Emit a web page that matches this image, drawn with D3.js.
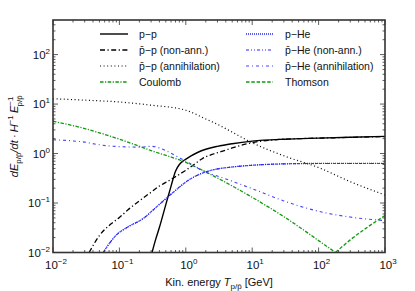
<!DOCTYPE html>
<html>
<head>
<meta charset="utf-8">
<script src="https://cdn.jsdelivr.net/npm/d3@7"></script>
<style>
  body { margin: 0; background: #fff; }
  svg { display: block; }
</style>
</head>
<body>
<div id="chart"></div>
<script>
// values, [T in GeV, dE/dt H^-1 E^-1]
const ppSolid = [[0.31,0.01],[0.35,0.018],[0.4,0.032],[0.5,0.093],[0.6,0.22],[0.7,0.44],[0.8,0.6],[0.9,0.7],[1.0,0.77],[1.2,0.9],[1.5,1.05],[2,1.22],[3,1.4],[5,1.58],[10,1.78],[30,1.95],[100,2.05],[300,2.13],[1000,2.22]];
const pbarpNonAnn = [[0.035,0.01],[0.05,0.022],[0.075,0.038],[0.1,0.051],[0.135,0.073],[0.2,0.11],[0.29,0.16],[0.4,0.22],[0.55,0.28],[0.75,0.36],[1.0,0.46],[1.4,0.63],[1.8,0.8],[2.5,0.96],[3.6,1.12],[5,1.3],[9.3,1.63],[20,1.88],[50,2.0],[100,2.05],[300,2.12],[1000,2.2]];
const pbarpAnn = [[0.01,12.8],[0.03,12],[0.1,11],[0.3,9.5],[1,7.5],[2,5],[3,3.9],[5,2.7],[10,1.65],[30,0.9],[100,0.52],[300,0.27],[1000,0.145]];
const coulomb = [[0.01,4.5],[0.03,3.2],[0.1,1.95],[0.3,1.15],[1,0.66],[3,0.32],[10,0.13],[30,0.053],[100,0.0174],[178,0.01],[300,0.0056],[1000,0.0018]];
const pHe = [[0.057,0.01],[0.07,0.015],[0.09,0.0226],[0.13,0.032],[0.23,0.049],[0.35,0.08],[0.51,0.126],[0.7,0.18],[0.87,0.23],[1.1,0.29],[1.6,0.38],[2.6,0.47],[4.7,0.53],[10,0.58],[33,0.62],[100,0.63],[300,0.63],[1000,0.63]];
const pbarHeNonAnn = [[0.057,0.01],[0.07,0.015],[0.09,0.0225],[0.13,0.032],[0.23,0.049],[0.35,0.08],[0.51,0.125],[0.7,0.18],[0.87,0.23],[1.1,0.29],[1.6,0.38],[2.6,0.47],[4.7,0.53],[10,0.58],[33,0.62],[100,0.63],[300,0.63],[1000,0.63]];
const pbarHeAnn = [[0.01,1.9],[0.02,1.8],[0.03,1.7],[0.05,1.5],[0.1,1.38],[0.2,1.35],[0.3,1.4],[0.5,1.15],[0.7,0.9],[1,0.7],[2,0.42],[3.2,0.34],[10,0.195],[30,0.11],[100,0.068],[300,0.052],[1000,0.044]];
const thomson = [[100,0.0056],[178,0.01],[300,0.018],[1000,0.056]];

const xExps = [-2, -1, 0, 1, 2, 3];
const yExps = [-2, -1, 0, 1, 2];

const series = [
  {label: "p\u2212p", data: ppSolid, color: "#000", dash: null, w: 1.4, col: 0},
  {label: "p\u0304\u2212p (non-ann.)", data: pbarpNonAnn, color: "#000", dash: "5,2.5,1.2,2.5", w: 1.3, col: 0},
  {label: "p\u0304\u2212p (annihilation)", data: pbarpAnn, color: "#000", dash: "1,2.6", w: 1.2, col: 0},
  {label: "Coulomb", data: coulomb, color: "#119911", dash: "3.5,1.5,1.2,1.5", w: 1.3, col: 0},
  {label: "p\u2212He", data: pHe, color: "#2222ff", dash: "1,1", w: 1.3, col: 1},
  {label: "p\u0304\u2212He (non-ann.)", data: pbarHeNonAnn, color: "#2222ff", dash: "3,2,1,2,1,2", w: 1.1, col: 1},
  {label: "p\u0304\u2212He (annihilation)", data: pbarHeAnn, color: "#4444ff", dash: "3,3,1,3", w: 1.1, col: 1},
  {label: "Thomson", data: thomson, color: "#119911", dash: "3.5,1.8", w: 1.3, col: 1}
];

const W = 415, H = 291;
const pl = 53, pr = 385, pt = 20, pb = 252.5;
const FONT = "Liberation Sans, Arial, sans-serif";

const x = d3.scaleLog().domain([1e-2, 1e3]).range([pl, pr]);
const y = d3.scaleLog().domain([1e-2, 500]).range([pb, pt]);

const svg = d3.select("#chart").append("svg")
  .attr("width", W).attr("height", H)
  .attr("font-family", FONT);

svg.append("clipPath").attr("id", "clip")
  .append("rect").attr("x", pl).attr("y", pt)
  .attr("width", pr - pl).attr("height", pb - pt);

const line = d3.line()
  .x(d => x(d[0]))
  .y(d => y(d[1]))
  .curve(d3.curveMonotoneX);

svg.append("g").attr("clip-path", "url(#clip)")
  .selectAll("path")
  .data(series)
  .join("path")
  .attr("d", d => line(d.data))
  .attr("fill", "none")
  .attr("stroke", d => d.color)
  .attr("stroke-width", d => d.w)
  .attr("stroke-dasharray", d => d.dash);

// ticks, inward on all four sides
const minorX = [], minorY = [];
for (let e = -2; e < 3; e++) for (let m = 2; m < 10; m++) minorX.push(m * Math.pow(10, e));
for (let e = -2; e < 3; e++) for (let m = 2; m < 10; m++) {
  const v = m * Math.pow(10, e);
  if (v < 500) minorY.push(v);
}
const ticks = svg.append("g").attr("stroke", "#333").attr("stroke-width", 0.8);
function tickX(v, len) {
  ticks.append("line").attr("x1", x(v)).attr("x2", x(v)).attr("y1", pb).attr("y2", pb - len);
  ticks.append("line").attr("x1", x(v)).attr("x2", x(v)).attr("y1", pt).attr("y2", pt + len);
}
function tickY(v, len) {
  ticks.append("line").attr("y1", y(v)).attr("y2", y(v)).attr("x1", pl).attr("x2", pl + len);
  ticks.append("line").attr("y1", y(v)).attr("y2", y(v)).attr("x1", pr).attr("x2", pr - len);
}
xExps.forEach(e => tickX(Math.pow(10, e), 5));
minorX.forEach(v => tickX(v, 2.5));
yExps.forEach(e => tickY(Math.pow(10, e), 5));
minorY.forEach(v => tickY(v, 2.5));

svg.append("rect")
  .attr("x", pl).attr("y", pt)
  .attr("width", pr - pl).attr("height", pb - pt)
  .attr("fill", "none").attr("stroke", "#333").attr("stroke-width", 1.6);

// tick labels
function power(sel, e) {
  sel.append("tspan").text("10");
  sel.append("tspan").attr("dy", -5).attr("font-size", 8)
    .text(e < 0 ? "\u2212" + (-e) : String(e));
}
xExps.forEach(e => {
  const t = svg.append("text")
    .attr("x", x(Math.pow(10, e)) + 3).attr("y", 269)
    .attr("text-anchor", "middle").attr("font-size", 11.5).attr("fill", "#111");
  power(t, e);
});
yExps.forEach(e => {
  const t = svg.append("text")
    .attr("x", 50).attr("y", y(Math.pow(10, e)) + 4)
    .attr("text-anchor", "end").attr("font-size", 11.5).attr("fill", "#111");
  power(t, e);
});

// axis titles
const xl = svg.append("text")
  .attr("x", 219).attr("y", 286)
  .attr("text-anchor", "middle").attr("font-size", 11).attr("fill", "#111");
xl.append("tspan").text("Kin. energy ");
xl.append("tspan").attr("font-style", "italic").text("T");
xl.append("tspan").attr("dy", 3).attr("font-size", 8).text("p/p\u0304");
xl.append("tspan").attr("dy", -3).text(" [GeV]");

const yl = svg.append("text")
  .attr("transform", `translate(18,${(pt + pb) / 2}) rotate(-90)`)
  .attr("text-anchor", "middle").attr("font-size", 11).attr("fill", "#111");
yl.append("tspan").attr("font-style", "italic").text("dE");
yl.append("tspan").attr("dy", 3).attr("font-size", 8).text("p/p\u0304");
yl.append("tspan").attr("dy", -3).attr("font-style", "italic").text("/dt\u2009\u00b7\u2009H");
yl.append("tspan").attr("dy", -5).attr("font-size", 8).text("\u22121");
yl.append("tspan").attr("dy", 5).attr("font-style", "italic").text("\u2009E");
yl.append("tspan").attr("dy", -5).attr("font-size", 8).text("\u22121");
yl.append("tspan").attr("dy", 9).attr("dx", -10).attr("font-size", 8).text("p/p\u0304");

// legend
const colX = [[100, 128, 139], [246, 273, 285]];
const leg = svg.append("g")
  .selectAll("g")
  .data(series)
  .join("g")
  .attr("transform", (d, i) => `translate(0,${34 + (i % 4) * 16})`);
leg.append("line")
  .attr("x1", d => colX[d.col][0]).attr("x2", d => colX[d.col][1])
  .attr("stroke", d => d.color)
  .attr("stroke-width", d => d.w)
  .attr("stroke-dasharray", d => d.dash);
leg.append("text")
  .attr("x", d => colX[d.col][2]).attr("y", 4)
  .attr("font-size", 10.5).attr("fill", "#111")
  .text(d => d.label);
</script>
</body>
</html>
